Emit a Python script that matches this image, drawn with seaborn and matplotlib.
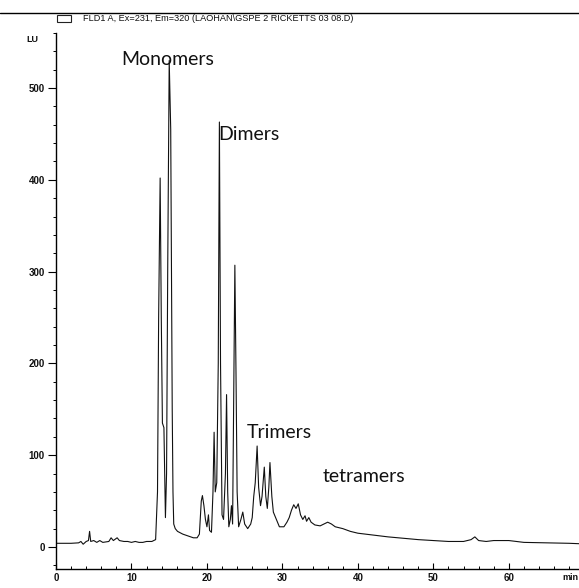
import numpy as np
import pandas as pd
import matplotlib
matplotlib.use("Agg")
import matplotlib.pyplot as plt
from matplotlib.patches import Rectangle
from matplotlib.ticker import MultipleLocator
import seaborn as sns

# Fluorescence trace (retention time in min, signal in LU)
retention_min = [
    0.0, 1.0, 2.0, 3.0, 3.3, 3.6, 4.0, 4.3, 4.45, 4.6, 5.0, 5.4, 5.8, 6.2, 7.0,
    7.3, 7.6, 8.1, 8.4, 9.0, 9.5, 10.0, 10.5, 11.0, 11.5, 12.0, 12.7, 13.2,
    13.45, 13.6, 13.8, 13.95, 14.1, 14.3, 14.5, 14.65, 14.8, 15.0, 15.2, 15.4,
    15.5, 15.6, 15.8, 16.1, 16.8, 17.5, 18.2, 18.7, 19.0, 19.25, 19.4, 19.6,
    19.8, 20.0, 20.2, 20.35, 20.6, 20.8, 20.95, 21.1, 21.3, 21.5, 21.65, 21.8,
    22.0, 22.2, 22.45, 22.6, 22.75, 22.9, 23.1, 23.25, 23.4, 23.55, 23.7,
    23.85, 24.0, 24.2, 24.5, 24.75, 25.0, 25.4, 25.8, 26.0, 26.2, 26.4, 26.65,
    26.85, 27.1, 27.3, 27.6, 27.8, 28.0, 28.2, 28.35, 28.6, 28.8, 29.2, 29.6,
    30.2, 30.6, 30.9, 31.2, 31.5, 31.8, 32.1, 32.4, 32.7, 33.0, 33.2, 33.5,
    33.8, 34.3, 35.0, 35.5, 36.0, 36.5, 37.0, 38.0, 39.0, 40.0, 42.0, 44.0,
    46.0, 48.0, 50.0, 52.0, 54.0, 55.0, 55.5, 56.0, 57.0, 58.0, 60.0, 62.0,
    65.0, 68.0, 69.5,
]
signal_lu = [
    4, 4, 4, 4.5, 6, 3, 6, 7, 17, 6, 7, 5, 7, 5, 6,
    10, 7, 10, 7, 6, 6, 5, 6, 5, 5, 6, 6, 8,
    60, 250, 402, 250, 135, 130, 32, 80, 300, 530, 455, 150,
    60, 25, 20, 17, 14, 12, 10, 10, 14, 50, 56, 45,
    30, 22, 35, 18, 16, 60, 125, 60, 70, 200, 463, 200,
    35, 30, 80, 166, 60, 22, 30, 45, 25, 160, 307,
    190, 60, 22, 30, 38, 25, 20, 25, 32, 55, 70, 110,
    65, 45, 55, 87, 55, 42, 65, 92, 55, 38, 30, 22,
    22, 27, 32, 40, 46, 42, 47, 35, 30, 34, 28, 32,
    27, 24, 23, 25, 27, 25, 22, 20, 17, 15, 13, 11,
    9.5, 8, 7, 6, 6, 8, 11, 7, 6, 7, 7, 5,
    4.5, 4, 3.5,
]

# Oligomer class labels: (text, time, LU baseline)
group_labels = ["Monomers", "Dimers", "Trimers", "tetramers"]
group_x = [8.7, 21.55, 25.3, 35.3]
group_y = [525, 443, 119, 71]

x_ticks = [0, 10, 20, 30, 40, 50, 60]
y_ticks = [0, 100, 200, 300, 400, 500]

header_text = "FLD1 A, Ex=231, Em=320 (LAOHAN\\GSPE 2 RICKETTS 03 08.D)"

sns.set_theme(style="white")
plt.rcParams["font.family"] = ["Liberation Sans", "DejaVu Sans"]

W, H = 579, 588
fig = plt.figure(figsize=(W / 100, H / 100), dpi=100)
ax = fig.add_axes([56 / W, 19 / H, (W - 56) / W, 536 / H])

trace = pd.DataFrame({"time": retention_min, "lu": signal_lu})
sns.lineplot(data=trace, x="time", y="lu", estimator=None, sort=False,
             color="#111111", linewidth=0.8, ax=ax)

ax.set_xlim(0, 69.3)
ax.set_ylim(-24, 560)
ax.set_xlabel("")
ax.set_ylabel("")

for side in ("top", "right"):
    ax.spines[side].set_visible(False)
for side in ("left", "bottom"):
    ax.spines[side].set_color("black")
    ax.spines[side].set_linewidth(1.0)

ax.set_xticks(x_ticks)
ax.set_yticks(y_ticks)
ax.xaxis.set_minor_locator(MultipleLocator(2))
ax.yaxis.set_minor_locator(MultipleLocator(20))
ax.tick_params(axis="x", which="major", direction="in", length=4, width=0.8,
               color="black", labelsize=7, pad=3, labelcolor="#111111")
ax.tick_params(axis="x", which="minor", direction="in", length=2, width=0.7,
               color="black")
ax.tick_params(axis="y", which="major", direction="out", length=6, width=0.8,
               color="black", labelsize=7, pad=2, labelcolor="#111111")
ax.tick_params(axis="y", which="minor", direction="out", length=2, width=0.7,
               color="black")
ax.tick_params(bottom=True, left=True, which="both")
for lbl in ax.get_xticklabels() + ax.get_yticklabels():
    lbl.set_fontweight("bold")

for lab, gx, gy in zip(group_labels, group_x, group_y):
    ax.text(gx, gy, lab, ha="left", va="baseline", fontsize=14,
            family=["Lato", "DejaVu Sans"], color="#111111")

# unit labels
fig.text(32 / W, 1 - 40 / H, "LU", ha="center", va="center", fontsize=6.5,
         fontweight="bold", color="#111111")
fig.text(1 - 1 / W, 11 / H, "min", ha="right", va="center", fontsize=6.5,
         fontweight="bold", color="#111111")

# header strip with signal description
fig.add_artist(plt.Line2D([0, 1], [1 - 13 / H, 1 - 13 / H], color="black",
                          linewidth=1.0, transform=fig.transFigure))
fig.add_artist(Rectangle((57 / W, 1 - 22 / H), 14 / W, 7 / H, fill=False,
                         edgecolor="#222222", linewidth=0.8,
                         transform=fig.transFigure))
fig.text(83 / W, 1 - 18.5 / H, header_text, ha="left", va="center",
         fontsize=6.6, color="#111111")

fig.savefig("out.png", dpi=100, facecolor="white")
